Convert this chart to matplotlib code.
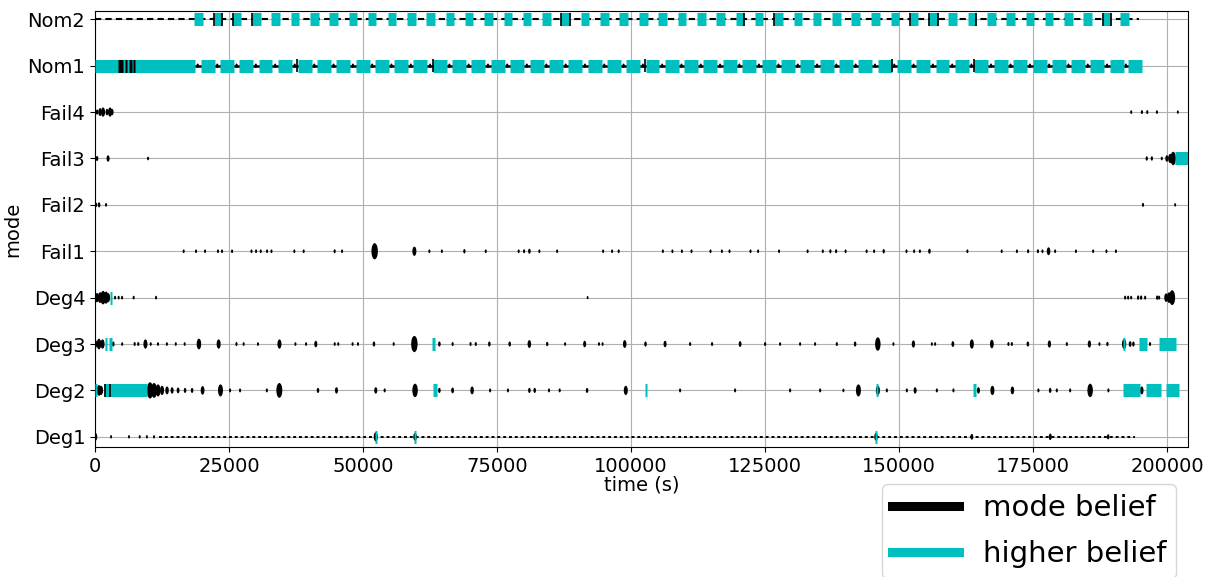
import matplotlib
matplotlib.use('Agg')
import matplotlib.pyplot as plt
from matplotlib.patches import Ellipse
from matplotlib.lines import Line2D

# ============================================================
# MODES (bottom to top) AND BELIEF TRACES
# marks: (time_s, belief 0..1) for the "mode belief" trace
# high : (start_s, end_s) where this mode holds the higher belief
# ============================================================

MODES = ["Deg1", "Deg2", "Deg3", "Deg4", "Fail1",
         "Fail2", "Fail3", "Fail4", "Nom1", "Nom2"]

XMAX = 203900

# --- Nominal modes: periodic hourly switching ---
NOM1_ON = [19700, 23300, 26900, 30500, 34100, 37800, 41400, 45000, 48600,
           52200, 55800, 59400, 63000, 66600, 70200, 73800, 77400, 81100,
           84700, 88300, 91900, 95500, 99100, 102700, 106300, 109900,
           113500, 117100, 120700, 124400, 128000, 131600, 135200, 138800,
           142400, 146000, 149600, 153200, 156800, 160400, 164000, 167700,
           171300, 174900, 178500, 182100, 185700, 189300, 192700]
NOM1_LEN = 2600
NOM1_START = (0, 18600)
NOM1_DARK = [(4300, 5200), (5600, 6000), (6300, 6900), (7100, 7500)]
NOM1_EDGE = [37700, 63000, 102600, 148600, 163900]
NOM1_END = 194500

NOM2_ON = [18500, 22100, 25700, 29300, 32900, 36500, 40100, 43700, 47300,
           50900, 54600, 58200, 61800, 65400, 69000, 72600, 76200, 79800,
           83400, 87000, 90600, 94200, 97800, 101500, 105100, 108700,
           112300, 115900, 119500, 123100, 126700, 130300, 133900, 137500,
           141100, 144800, 148400, 152000, 155600, 159200, 162800, 166400,
           170000, 173600, 177200, 180800, 184400, 188000, 191200]
NOM2_LEN = 1600
NOM2_EDGE = [22100, 23700, 25700, 29300, 87000, 88600, 121100, 126700,
             152000, 155600, 157200, 164400, 188000, 189600]
NOM2_END = 194700

# --- Failure modes ---
FAIL4_MARKS = [(370, 0.2), (930, 0.4), (1490, 0.5), (2240, 0.3), (2800, 0.5),
               (3170, 0.3), (193300, 0.1), (195300, 0.12), (196300, 0.12),
               (198100, 0.1), (202000, 0.08)]
FAIL4_HIGH = []

FAIL3_MARKS = [(370, 0.2), (2430, 0.3), (9890, 0.1), (196200, 0.15),
               (197150, 0.15), (199000, 0.1), (199950, 0.3), (200570, 0.5),
               (201130, 0.8)]
FAIL3_HIGH = [(201500, 204000)]

FAIL2_MARKS = [(190, 0.15), (750, 0.2), (2050, 0.1), (195500, 0.12),
               (201500, 0.08)]
FAIL2_HIGH = []

FAIL1_MARKS = [(16530, 0.1), (18840, 0.1), (20520, 0.1), (22930, 0.1),
               (23690, 0.1), (25560, 0.1), (29180, 0.1), (30040, 0.1),
               (30910, 0.1), (32090, 0.1), (32910, 0.1), (37180, 0.1),
               (38920, 0.1), (44700, 0.12), (46080, 0.1), (52160, 1.0),
               (59570, 0.5), (62370, 0.1), (64700, 0.1), (68900, 0.15),
               (72890, 0.1), (79030, 0.1), (80040, 0.12), (81030, 0.2),
               (82890, 0.1), (86200, 0.1), (94780, 0.1), (96460, 0.1),
               (97690, 0.1), (105930, 0.1), (107710, 0.1), (109480, 0.1),
               (111270, 0.1), (114820, 0.1), (116940, 0.1), (118360, 0.1),
               (122280, 0.1), (123700, 0.1), (127610, 0.1), (132930, 0.1),
               (135770, 0.1), (137180, 0.12), (138250, 0.12), (140020, 0.1),
               (143940, 0.1), (145340, 0.1), (147130, 0.15), (151380, 0.1),
               (152800, 0.1), (153880, 0.1), (155660, 0.2), (162740, 0.1),
               (169140, 0.1), (171980, 0.1), (174070, 0.12), (175900, 0.12),
               (176740, 0.1), (177880, 0.4), (179110, 0.1), (182990, 0.1),
               (186200, 0.1), (188680, 0.1), (190450, 0.1)]
FAIL1_HIGH = []

# --- Degraded modes ---
DEG4_MARKS = [(370, 0.5), (930, 0.6), (1490, 0.8), (2050, 0.7), (2430, 0.5),
              (3730, 0.1), (4400, 0.1), (5040, 0.1), (7200, 0.1),
              (11380, 0.1), (91890, 0.06), (192170, 0.12), (192730, 0.12),
              (193290, 0.1), (194590, 0.15), (195150, 0.15), (195900, 0.12),
              (198140, 0.15), (198510, 0.12), (199820, 0.45), (200380, 0.6),
              (200940, 0.9)]
DEG4_HIGH = [(2700, 3150)]

DEG3_MARKS = [(75, 0.4), (730, 0.6), (1400, 0.5), (3400, 0.2), (5060, 0.1),
              (7390, 0.12), (8060, 0.12), (9400, 0.5), (10390, 0.1),
              (11740, 0.1), (13400, 0.1), (15060, 0.1), (16720, 0.1),
              (19380, 0.6), (23060, 0.5), (26380, 0.12), (27720, 0.1),
              (30390, 0.1), (34400, 0.5), (37380, 0.1), (39370, 0.1),
              (41180, 0.3), (44710, 0.1), (45370, 0.1), (48040, 0.1),
              (49050, 0.1), (52030, 0.2), (55710, 0.1), (59570, 1.0),
              (64240, 0.2), (66710, 0.12), (70050, 0.12), (71030, 0.12),
              (73560, 0.2), (77350, 0.2), (81020, 0.4), (84350, 0.15),
              (87690, 0.1), (91340, 0.3), (94010, 0.1), (94680, 0.1),
              (98810, 0.4), (102690, 0.2), (106340, 0.3), (111010, 0.12),
              (115110, 0.12), (120340, 0.25), (125000, 0.12), (127800, 0.1),
              (131530, 0.1), (134330, 0.1), (138380, 0.12), (141790, 0.2),
              (146030, 0.8), (148940, 0.1), (152670, 0.35), (156110, 0.1),
              (156720, 0.1), (160030, 0.25), (163570, 0.5), (167300, 0.45),
              (170400, 0.12), (171030, 0.12), (174020, 0.2), (178040, 0.35),
              (181290, 0.12), (185500, 0.35), (187370, 0.1), (188860, 0.15),
              (191980, 0.55), (193100, 0.25), (193710, 0.2), (196810, 0.12)]
DEG3_HIGH = [(1850, 2250), (2670, 3070), (62950, 63400), (191750, 192200),
             (194840, 196330), (198570, 201630)]

DEG2_MARKS = [(370, 0.4), (750, 0.6), (1120, 0.5), (10260, 1.0), (11010, 0.9),
              (11750, 0.7), (12500, 0.5), (13430, 0.4), (14370, 0.3),
              (15490, 0.25), (16790, 0.2), (18100, 0.2), (20060, 0.45),
              (23400, 0.7), (25190, 0.12), (27050, 0.12), (32050, 0.12),
              (34380, 0.9), (41590, 0.2), (45040, 0.3), (52370, 0.3),
              (54030, 0.12), (59700, 0.8), (64240, 0.2), (66700, 0.25),
              (70340, 0.4), (73700, 0.12), (77030, 0.12), (81030, 0.2),
              (82020, 0.2), (84690, 0.12), (86680, 0.12), (91790, 0.2),
              (99010, 0.5), (109140, 0.12), (119400, 0.12), (129670, 0.12),
              (135270, 0.12), (139610, 0.1), (142410, 0.7), (146040, 0.5),
              (147710, 0.12), (151440, 0.12), (152990, 0.3), (157040, 0.12),
              (160140, 0.12), (164800, 0.3), (167410, 0.5), (171140, 0.4),
              (175990, 0.12), (178180, 0.2), (179420, 0.12), (181910, 0.12),
              (185640, 0.8), (189050, 0.12), (195270, 0.4)]
DEG2_HIGH = [(0, 350), (1740, 9700), (63050, 63800), (102600, 103050),
             (145600, 146050), (163850, 164400), (191850, 194970),
             (196100, 198830), (199700, 202260)]
DEG2_EDGE = [1870, 2720]

DEG1_MARKS = [(80, 0.4), (2990, 0.08), (6330, 0.08), (8330, 0.08),
              (9670, 0.08), (11000, 0.08), (52370, 0.5), (59700, 0.4),
              (145700, 0.4), (163570, 0.25), (178200, 0.3), (189000, 0.2)]
DEG1_HIGH = [(52150, 52600), (59480, 59930), (145480, 145930)]
DEG1_TRACE = (12000, 194000)

CYAN = "c"


def draw_marks(ax, row, marks):
    # belief drawn as a spindle: taller and wider for stronger belief
    for t, b in marks:
        ax.add_patch(Ellipse((t, row), 300 + 900 * b, 0.05 + 0.30 * b,
                             color="k", lw=0, zorder=2.5))


def draw_high(ax, row, spans):
    for s, e in spans:
        ax.hlines(row, s, e, color=CYAN, lw=9.4, capstyle="butt", zorder=3)


def draw_edges(ax, row, times):
    ax.vlines(times, row - 0.14, row + 0.14, color="k", lw=1.2, zorder=4)


def plot_modes():
    fig = plt.figure(figsize=(12.14, 5.77), dpi=100)
    ax = fig.add_axes([0.0783, 0.2253, 0.9003, 0.7557])
    idx = {m: i for i, m in enumerate(MODES)}

    # --- Nom1 ---
    r = idx["Nom1"]
    ax.plot([0, NOM1_END], [r, r], color="k", lw=1.8, zorder=2)
    draw_high(ax, r, [NOM1_START])
    draw_high(ax, r, [(s, s + NOM1_LEN) for s in NOM1_ON])
    gaps = [NOM1_START[1]] + [s + NOM1_LEN for s in NOM1_ON[:-1]]
    draw_marks(ax, r, [((g + s) / 2, 0.15) for g, s in zip(gaps, NOM1_ON)])
    for s, e in NOM1_DARK:
        ax.hlines(r, s, e, color="k", lw=9.4, capstyle="butt", zorder=4)
    draw_edges(ax, r, NOM1_EDGE)

    # --- Nom2 ---
    r = idx["Nom2"]
    ax.plot([0, NOM2_END], [r, r], color="k", lw=1.5, dashes=(3, 2),
            zorder=2)
    draw_high(ax, r, [(s, s + NOM2_LEN) for s in NOM2_ON])
    draw_edges(ax, r, NOM2_EDGE)

    # --- other modes ---
    for name, marks, high in [("Fail4", FAIL4_MARKS, FAIL4_HIGH),
                              ("Fail3", FAIL3_MARKS, FAIL3_HIGH),
                              ("Fail2", FAIL2_MARKS, FAIL2_HIGH),
                              ("Fail1", FAIL1_MARKS, FAIL1_HIGH),
                              ("Deg4", DEG4_MARKS, DEG4_HIGH),
                              ("Deg3", DEG3_MARKS, DEG3_HIGH),
                              ("Deg2", DEG2_MARKS, DEG2_HIGH),
                              ("Deg1", DEG1_MARKS, DEG1_HIGH)]:
        draw_marks(ax, idx[name], marks)
        draw_high(ax, idx[name], high)

    draw_edges(ax, idx["Deg2"], DEG2_EDGE)
    r = idx["Deg1"]
    ax.plot(DEG1_TRACE, [r, r], color="k", lw=1.4, dashes=(1.5, 1.5),
            zorder=2)

    ax.set_xlim(0, XMAX)
    ax.set_ylim(-0.22, len(MODES) - 0.82)
    ax.set_yticks(range(len(MODES)))
    ax.set_yticklabels(MODES)
    ax.tick_params(labelsize=14)
    ax.set_xlabel("time (s)", fontsize=14, labelpad=0)
    ax.set_ylabel("mode", fontsize=14)
    ax.grid(True, color="#b0b0b0", lw=0.8)

    handles = [Line2D([], [], color="k", lw=6.5),
               Line2D([], [], color=CYAN, lw=6.5)]
    fig.legend(handles, ["mode belief", "higher belief"], fontsize=21,
               loc="upper left", bbox_to_anchor=(0.7265, 0.1612),
               borderaxespad=0, handlelength=2.3, borderpad=0.35,
               labelspacing=0.62)

    fig.savefig("out.png", dpi=100)
    plt.close(fig)


if __name__ == "__main__":
    plot_modes()
